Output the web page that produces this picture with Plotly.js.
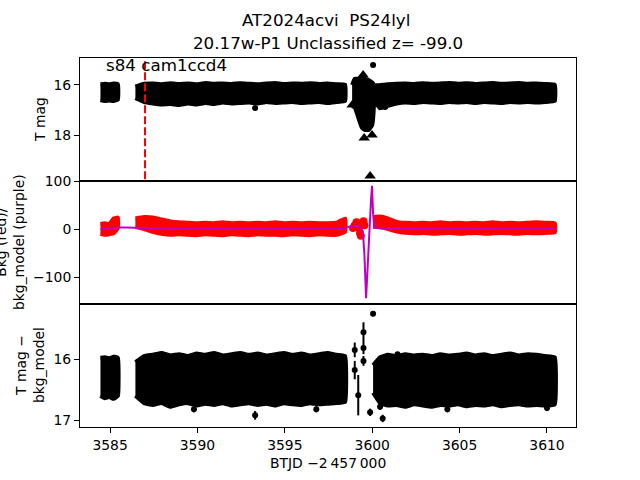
<!DOCTYPE html>
<html>
<head>
<meta charset="utf-8">
<script src="https://cdn.plot.ly/plotly-3.0.1.min.js"></script>
<style>body{margin:0;background:#fff}</style>
</head>
<body>
<div id="graf" style="width:640px;height:480px"></div>
<script>
// time stamps (BTJD - 2457000) of the band edges, one array per segment
const tSeg1 = [3584.45, 3584.7, 3584.95, 3585.2, 3585.45];
const tSeg2 = [3586.45, 3586.95, 3587.45, 3587.95, 3588.45, 3588.95, 3589.45, 3589.95, 3590.45, 3590.95,
               3591.45, 3591.95, 3592.45, 3592.95, 3593.45, 3593.95, 3594.45, 3594.95, 3595.45, 3595.95,
               3596.45, 3596.95, 3597.45, 3597.95, 3598.45];
const tSeg3 = [3600.05, 3600.45, 3600.9, 3601.4, 3601.9, 3602.4, 3602.9, 3603.4, 3603.9, 3604.4, 3604.9,
               3605.4, 3605.9, 3606.4, 3606.9, 3607.4, 3607.9, 3608.4, 3608.9, 3609.4, 3609.9, 3610.45];

// T mag (top panel): bright / faint edge of the dense cloud
const magHi1 = [15.97, 15.95, 15.97, 15.94, 15.97];
const magLo1 = [16.6, 16.64, 16.62, 16.64, 16.58];
const magHi2 = [16.07, 15.95, 15.94, 15.97, 15.93, 15.96, 15.94, 15.97, 15.92, 15.95, 15.94, 15.96, 15.93,
                15.95, 15.97, 15.94, 15.92, 15.96, 15.94, 15.95, 15.93, 15.96, 15.94, 15.97, 15.99];
const magLo2 = [16.53, 16.68, 16.74, 16.78, 16.76, 16.8, 16.74, 16.78, 16.72, 16.76, 16.7, 16.74, 16.72,
                16.7, 16.74, 16.68, 16.72, 16.7, 16.68, 16.72, 16.7, 16.68, 16.72, 16.68, 16.64];
const magHi3 = [16.02, 16.0, 15.97, 15.95, 15.94, 15.96, 15.93, 15.95, 15.94, 15.92, 15.95, 15.93, 15.96,
                15.94, 15.92, 15.95, 15.94, 15.92, 15.95, 15.94, 15.96, 15.99];
const magLo3 = [16.58, 16.93, 16.83, 16.74, 16.7, 16.72, 16.68, 16.7, 16.72, 16.68, 16.7, 16.68, 16.72,
                16.68, 16.7, 16.72, 16.68, 16.7, 16.68, 16.7, 16.68, 16.64];
// the burst near 3599.6
const tBurst = [3598.85, 3599.0, 3599.2, 3599.4, 3599.6, 3599.8, 3600.0, 3600.1];
const magBurstHi = [16.0, 15.75, 15.75, 15.7, 15.75, 15.8, 15.9, 16.0];
const magBurstLo = [16.85, 16.9, 17.3, 17.7, 17.8, 17.8, 17.6, 16.8];
const tDots = [3593.3, 3600.05, 3599.02, 3600.74];
const magDots = [16.92, 15.2, 15.88, 16.88];
const tTri = [3599.48, 3599.54, 3599.99, 3599.88, 3598.85];
const magTri = [15.6, 18.12, 18.0, 19.64, 16.8];
const tMark = 3587.0;

// background (red) and background model (purple)
const bkgHi1 = [10, 12, 10, 22, 24];
const bkgLo1 = [-10, -12, -11, -9, 2];
const bkgHi2 = [22, 25, 24, 20, 16, 14, 13, 12, 13, 12, 14, 12, 13, 12, 13, 12, 14, 12, 13, 12, 13, 12, 12, 13, 22];
const bkgLo2 = [4, 0, -6, -10, -12, -11, -12, -13, -11, -12, -13, -11, -12, -13, -11, -12, -12, -13, -11,
                -12, -13, -11, -12, -12, -6];
const bkgHi3 = [25, 26, 22, 15, 13, 12, 13, 12, 14, 12, 13, 12, 13, 12, 14, 12, 13, 12, 13, 14, 13, 12];
const bkgLo3 = [5, 4, 0, -5, -8, -9, -8, -10, -9, -8, -10, -9, -8, -10, -9, -8, -9, -10, -8, -9, -8, -7];
const tBkgBurst = [3598.9, 3599.0, 3599.1, 3599.2, 3599.3, 3599.35, 3599.4, 3599.5, 3599.55];
const bkgBurst = [2, 8, 14, 4, -8, -14, 12, 16, 8];
const tModel = [3584.45, 3585.0, 3585.5, 3586.0, 3586.5, 3587.5, 3589, 3591, 3593, 3595, 3597, 3598.3,
                3598.6, 3599.0, 3599.3, 3599.4, 3599.47, 3599.55, 3599.65, 3599.72, 3599.8, 3599.87,
                3599.93, 3599.99, 3600.05, 3600.12, 3600.25, 3600.5, 3601, 3603, 3605, 3607, 3609, 3610.45];
const bkgModel = [0, 2, 3, 3, 2, 1, 0, 1, 0, 1, 0, 0, 4, 7, 6, 0, -8, -50, -144, -90, -20, 20, 60, 90,
                  30, 5, 2, 1, 1, 1, 0, 1, 0, 0];

// T mag - bkg_model (bottom panel)
const difHi1 = [15.98, 15.97, 15.99, 15.96, 15.98];
const difLo1 = [16.6, 16.64, 16.62, 16.65, 16.6];
const difHi2 = [16.05, 15.95, 15.93, 15.9, 15.94, 15.92, 15.95, 15.91, 15.93, 15.9, 15.94, 15.92, 15.9,
                15.93, 15.91, 15.94, 15.92, 15.9, 15.93, 15.91, 15.94, 15.92, 15.9, 15.93, 15.95];
const difLo2 = [16.6, 16.72, 16.75, 16.72, 16.78, 16.74, 16.72, 16.76, 16.73, 16.75, 16.72, 16.76, 16.74,
                16.72, 16.75, 16.73, 16.76, 16.72, 16.74, 16.75, 16.72, 16.74, 16.73, 16.72, 16.7];
const difHi3 = [16.1, 15.97, 15.93, 15.95, 15.92, 15.94, 15.93, 15.95, 15.92, 15.94, 15.93, 15.91, 15.94,
                15.92, 15.95, 15.93, 15.91, 15.94, 15.92, 15.93, 15.95, 15.97];
const difLo3 = [16.55, 16.72, 16.76, 16.75, 16.78, 16.74, 16.76, 16.78, 16.75, 16.76, 16.74, 16.77, 16.75,
                16.76, 16.74, 16.77, 16.75, 16.74, 16.76, 16.75, 16.76, 16.74];
const tDif = [3593.3, 3593.75, 3589.8, 3596.8, 3601.45, 3604.3, 3610.0,
              3599.0, 3599.0, 3599.2, 3599.5, 3599.5, 3599.5, 3600.05, 3599.88, 3600.45, 3600.6];
const difMag = [16.92, 15.95, 16.82, 16.82, 15.92, 16.82, 16.8,
                15.85, 16.18, 16.59, 15.56, 15.82, 16.03, 15.26, 16.87, 16.78, 16.97];
const difErr = [0.07, 0.03, 0.05, 0.05, 0.03, 0.05, 0.05,
                0.12, 0.15, 0.33, 0.16, 0.1, 0.08, 0.04, 0.06, 0.05, 0.06];

const xTicks = [3585, 3590, 3595, 3600, 3605, 3610];

function banda(t, hi, lo, color, xa, ya) {
    return {
        x: t.concat(t.slice().reverse()),
        y: hi.concat(lo.slice().reverse()),
        xaxis: xa, yaxis: ya,
        mode: 'lines', fill: 'toself', fillcolor: color,
        line: {color: color, width: 4, shape: 'spline', smoothing: 0.3},
        hoverinfo: 'skip'
    };
}

function grafico() {
    let espacio = document.getElementById('graf');
    let fuente = 'DejaVu Sans, Liberation Sans, sans-serif';

    var data = [
        banda(tSeg1, magHi1, magLo1, 'black', 'x', 'y'),
        banda(tSeg2, magHi2, magLo2, 'black', 'x', 'y'),
        banda(tSeg3, magHi3, magLo3, 'black', 'x', 'y'),
        banda(tBurst, magBurstHi, magBurstLo, 'black', 'x', 'y'),
        {x: tDots, y: magDots, xaxis: 'x', yaxis: 'y', mode: 'markers',
         marker: {color: 'black', size: 6}},
        {x: tTri, y: magTri, xaxis: 'x', yaxis: 'y', mode: 'markers',
         marker: {color: 'black', size: 10, symbol: 'triangle-up'}},
        {x: [tMark, tMark], y: [15.05, 19.84], xaxis: 'x', yaxis: 'y', mode: 'lines',
         line: {color: 'red', width: 2, dash: '8px,3px'}},

        banda(tSeg1, bkgHi1, bkgLo1, 'red', 'x2', 'y2'),
        banda(tSeg2, bkgHi2, bkgLo2, 'red', 'x2', 'y2'),
        banda(tSeg3, bkgHi3, bkgLo3, 'red', 'x2', 'y2'),
        {x: tBkgBurst, y: bkgBurst, xaxis: 'x2', yaxis: 'y2', mode: 'markers',
         marker: {color: 'red', size: 8}},
        {x: tModel, y: bkgModel, xaxis: 'x2', yaxis: 'y2', mode: 'lines',
         line: {color: '#bf00bf', width: 2}},

        banda(tSeg1, difHi1, difLo1, 'black', 'x3', 'y3'),
        banda(tSeg2, difHi2, difLo2, 'black', 'x3', 'y3'),
        banda(tSeg3, difHi3, difLo3, 'black', 'x3', 'y3'),
        {x: tDif, y: difMag, xaxis: 'x3', yaxis: 'y3', mode: 'markers',
         marker: {color: 'black', size: 6},
         error_y: {type: 'data', array: difErr, visible: true, color: 'black', thickness: 2, width: 0}}
    ];

    let ejeX = {
        range: [3583.28, 3611.66], showgrid: false, zeroline: false,
        showline: true, mirror: true, linecolor: 'black', linewidth: 1,
        tickvals: xTicks, ticks: '', showticklabels: false
    };
    let ejeY = {
        showgrid: false, zeroline: false, showline: true, mirror: true,
        linecolor: 'black', linewidth: 1, ticks: 'outside', ticklen: 5,
        tickcolor: 'black', tickfont: {size: 13.9, color: 'black'}
    };
    let px = (v) => v / 640;
    let py = (v) => 1 - v / 480;

    var layout = {
        width: 640, height: 480,
        margin: {l: 0, r: 0, t: 0, b: 0},
        paper_bgcolor: 'white', plot_bgcolor: 'white',
        font: {family: fuente, color: 'black'},
        showlegend: false,
        xaxis: Object.assign({}, ejeX, {domain: [0.125, 0.9], anchor: 'y'}),
        xaxis2: Object.assign({}, ejeX, {domain: [0.125, 0.9], anchor: 'y2'}),
        xaxis3: Object.assign({}, ejeX, {domain: [0.125, 0.9], anchor: 'y3',
            ticks: 'outside', ticklen: 5, tickcolor: 'black', showticklabels: true,
            tickfont: {size: 13.9, color: 'black'}}),
        yaxis: Object.assign({}, ejeY, {domain: [0.6229, 0.8792], anchor: 'x',
            range: [19.84, 14.92], tickvals: [16, 18]}),
        yaxis2: Object.assign({}, ejeY, {domain: [0.3667, 0.6229], anchor: 'x2',
            range: [-156, 100], tickvals: [-100, 0, 100]}),
        yaxis3: Object.assign({}, ejeY, {domain: [0.1104, 0.3667], anchor: 'x3',
            range: [17.11, 15.1], tickvals: [16, 17]}),
        annotations: [
            {text: 'AT2024acvi \u00a0PS24lyl', x: px(326), y: py(20), xref: 'paper', yref: 'paper',
             showarrow: false, xanchor: 'center', yanchor: 'middle', font: {size: 16.7}},
            {text: '20.17w-P1 Unclassified z= -99.0', x: px(328), y: py(43), xref: 'paper', yref: 'paper',
             showarrow: false, xanchor: 'center', yanchor: 'middle', font: {size: 16.7}},
            {text: 's84 cam1ccd4', x: px(104), y: py(65), xref: 'paper', yref: 'paper',
             showarrow: false, xanchor: 'left', yanchor: 'middle', font: {size: 16.7}},
            {text: 'T mag', x: px(40), y: py(120), xref: 'paper', yref: 'paper', textangle: -90,
             showarrow: false, xanchor: 'center', yanchor: 'middle', font: {size: 13.9}},
            {text: 'Bkg (red)/<br>bkg_model (purple)', x: px(9.5), y: py(242.5), xref: 'paper', yref: 'paper',
             textangle: -90, showarrow: false, xanchor: 'center', yanchor: 'middle', font: {size: 13.9}},
            {text: 'T mag \u2212<br>bkg_model', x: px(29.5), y: py(365.5), xref: 'paper', yref: 'paper',
             textangle: -90, showarrow: false, xanchor: 'center', yanchor: 'middle', font: {size: 13.9}},
            {text: 'BTJD \u22122\u2009457\u2009000', x: px(328), y: py(463), xref: 'paper', yref: 'paper',
             showarrow: false, xanchor: 'center', yanchor: 'middle', font: {size: 13.9}}
        ]
    };

    Plotly.newPlot(espacio, data, layout, {staticPlot: true});
}

grafico();
</script>
</body>
</html>
